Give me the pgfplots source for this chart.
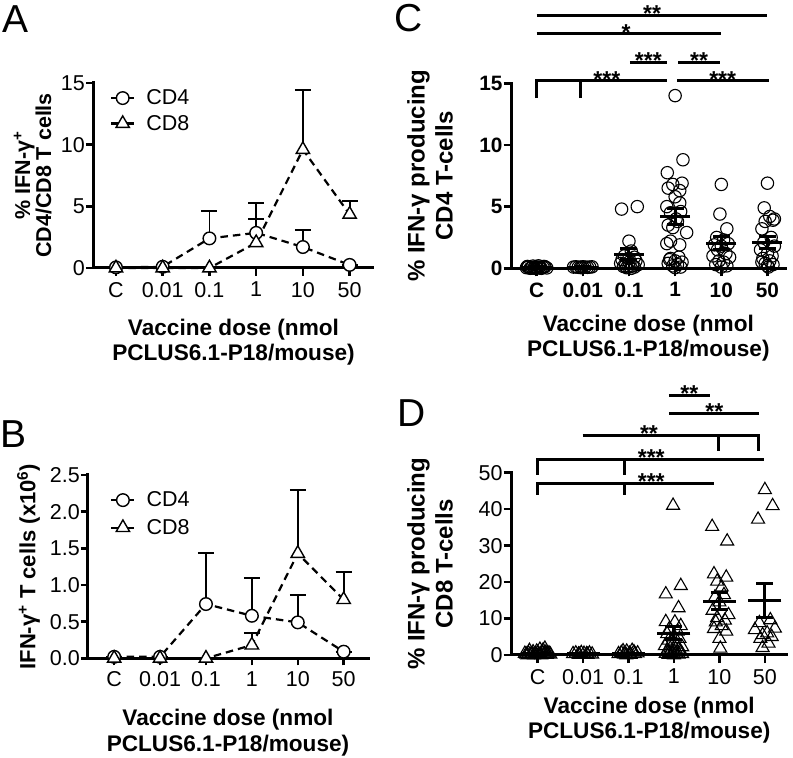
\documentclass[border=0pt]{standalone}
\usepackage{pgfplots}
\pgfplotsset{compat=1.18}
\usepackage{fontspec}
\setmainfont{Liberation Sans}
\newcommand\tk{\fontsize{21.5}{24}\selectfont}
\newcommand\tkb{\fontsize{20.8}{24}\selectfont\bfseries}
\newcommand\lb{\fontsize{22.6}{25.5}\selectfont\bfseries}
\newcommand\yla{\fontsize{21.5}{20}\selectfont\bfseries}
\newcommand\ylb{\fontsize{22}{24}\selectfont\bfseries}
\newcommand\ylc{\fontsize{24}{28}\selectfont\bfseries}
\newcommand\starf{\fontsize{23}{24}\selectfont\bfseries}
\newcommand\pl{\fontsize{39}{40}\selectfont}
\tikzset{
  sig/.style={line width=3pt},
  sigt/.style={anchor=base, yshift=-6.5pt, font=\starf, inner sep=0pt},
}
\begin{document}
\begin{tikzpicture}
\path[use as bounding box] (0pt,0pt) rectangle (793pt,758pt);
\pgfplotsset{
  base/.style={
    scale only axis, anchor=south west,
    axis lines=left, axis line style={-, line width=3pt, line cap=rect},
    tick align=outside, major tick length=8pt,
    tick style={black, line width=2.5pt},
    xtick={0,...,5}, xticklabels={C,0.01,0.1,1,10,50},
    ticklabel style={font=\tk, inner sep=0pt},
    xticklabel style={yshift=-6pt},
    yticklabel style={xshift=-1pt},
    xlabel style={font=\lb, align=center, anchor=north, inner sep=0pt},
    ylabel style={align=center, anchor=south, inner sep=0pt},
    clip=false,
  },
  dline/.style={black, line width=2.2pt, dash pattern=on 7.5pt off 5pt,
    error bars/.cd, y dir=plus, y explicit,
    error bar style={solid, line width=1.8pt},
    error mark options={rotate=90, mark size=8pt, line width=1.8pt, solid}},
  cdfour/.style={mark=*, mark size=6.3pt, mark options={solid, fill=white, draw=black, line width=1.4pt}, dline},
  cdeight/.style={mark=triangle*, mark size=7.7pt, mark options={solid, fill=white, draw=black, line width=1.4pt}, dline},
  leg/.style={legend style={draw=none, fill=none, font=\tk, inner sep=0pt, column sep=9pt},
    legend cell align=left,
    legend image code/.code={\draw[mark repeat=2, mark phase=2, ##1, solid] plot coordinates {(0pt,0pt) (11.5pt,0pt) (23pt,0pt)};}},
  meanbar/.style={black, only marks, mark=-, mark size=#1, mark options={line width=3pt, solid},
    error bars/.cd, y dir=both, y explicit,
    error bar style={line width=3pt},
    error mark options={rotate=90, mark size=8.5pt, line width=3pt}},
}

% ---------------- Panel A ----------------
\begin{axis}[base, leg, at={(94pt,490pt)}, width=279pt, height=185pt,
  xmin=-0.47, xmax=5.5, ymin=0, ymax=15,
  ytick={0,5,10,15}, yticklabels={0,5,10,15},
  xlabel={Vaccine dose (nmol\\PCLUS6.1-P18/mouse)},
  xlabel style={at={(axis description cs:0.5,-0.273)}},
  ylabel={\% IFN-γ\textsuperscript{+}\\CD4/CD8 T cells},
  ylabel style={font=\yla, at={(axis description cs:-0.1516,0.5)}},
  legend style={at={(axis description cs:0.057,0.975)}, anchor=north west, row sep=5pt},
]
\addplot[cdfour] coordinates {(0,0.05) +- (0,0) (1,0.1) +- (0,0) (2,2.4) +- (0,2.25) (3,2.85) +- (0,2.4) (4,1.7) +- (0,1.35) (5,0.25) +- (0,0)};
\addlegendentry{CD4}
\addplot[cdeight] coordinates {(0,0) +- (0,0) (1,0) +- (0,0) (2,0) +- (0,0) (3,2.05) +- (0,1.9) (4,9.6) +- (0,4.85) (5,4.35) +- (0,1.1)};
\addlegendentry{CD8}
\end{axis}

% ---------------- Panel B ----------------
\begin{axis}[base, leg, at={(88pt,99.7pt)}, width=280pt, height=183.3pt,
  xmin=-0.57, xmax=5.53, ymin=0, ymax=2.5,
  ytick={0,0.5,1,1.5,2,2.5}, yticklabels={0.0,0.5,1.0,1.5,2.0,2.5},
  major tick length=7pt,
  xlabel={Vaccine dose (nmol\\PCLUS6.1-P18/mouse)},
  xlabel style={at={(axis description cs:0.5,-0.277)}},
  ylabel={IFN-γ\textsuperscript{+} T cells (x10\textsuperscript{6})},
  ylabel style={font=\ylb, at={(axis description cs:-0.171,0.5)}},
  legend style={at={(axis description cs:0.079,0.92)}, anchor=north west, row sep=7pt},
]
\addplot[cdfour] coordinates {(0,0.02) +- (0,0) (1,0.02) +- (0,0) (2,0.74) +- (0,0.7) (3,0.58) +- (0,0.52) (4,0.49) +- (0,0.37) (5,0.09) +- (0,0)};
\addlegendentry{CD4}
\addplot[cdeight] coordinates {(0,0) +- (0,0) (1,0) +- (0,0) (2,0.0) +- (0,0) (3,0.18) +- (0,0.17) (4,1.43) +- (0,0.87) (5,0.80) +- (0,0.38)};
\addlegendentry{CD8}
\end{axis}

% ---------------- Panel C ----------------
\begin{axis}[base, at={(511.7pt,489.7pt)}, width=273.3pt, height=185pt,
  axis line style={-, line width=3.5pt, line cap=rect},
  xmin=-0.54, xmax=5.38, ymin=0, ymax=15,
  ytick={0,5,10,15}, yticklabels={0,5,10,15},
  ticklabel style={font=\tkb},
  xlabel={Vaccine dose (nmol\\PCLUS6.1-P18/mouse)},
  xlabel style={at={(axis description cs:0.5,-0.252)}},
  ylabel={\% IFN-γ producing\\CD4 T-cells},
  ylabel style={font=\ylc, at={(axis description cs:-0.2148,0.5)}},
]
\addplot[black, only marks, mark=o, mark size=6.2pt, mark options={line width=1.1pt}] coordinates {
(-0.22,0.05)(-0.18,0.1)(-0.14,0.0)(-0.1,0.08)(-0.06,0.03)(-0.02,0.12)(0.02,0.04)(0.06,0.1)(0.1,0.0)(0.14,0.07)(0.18,0.12)(0.22,0.03)(-0.2,0.15)(-0.08,0.18)(0.04,0.2)(0.16,0.15)(-0.12,0.02)(0.08,0.02)(0.0,0.06)(-0.04,0.0)
(0.8,0.1)(0.85,0.12)(0.9,0.08)(0.95,0.1)(1.0,0.12)(1.05,0.1)(1.1,0.08)(1.15,0.1)(1.2,0.12)(0.97,0.05)
(1.84,4.8)(2.18,5.0)(2.0,2.2)(2.05,1.4)(1.9,1.0)(2.12,0.9)(1.85,0.7)(2.15,0.6)(2.0,0.5)(1.82,0.4)(2.2,0.3)(1.92,0.2)(2.08,0.2)(2.0,0.1)(1.95,0.05)(2.05,0.0)(2.0,0.8)(1.88,0.15)(2.12,0.1)
(3.0,14.0)(3.17,8.8)(2.83,7.75)(3.15,6.9)(2.95,6.8)(3.1,6.3)(2.85,6.5)(3.0,5.8)(2.82,5.0)(3.12,4.6)(3.02,4.0)(2.85,3.5)(2.95,3.3)(3.25,2.9)(2.9,2.2)(2.82,2.0)(3.1,1.9)(3.08,0.9)(2.9,0.8)(3.0,0.6)(3.15,0.5)(2.85,0.4)(3.05,0.3)(2.95,0.2)(3.12,0.1)(2.88,0.7)(3.0,0.05)(2.9,4.5)(3.1,5.3)(3.05,3.8)
(4.0,6.8)(3.97,4.4)(4.12,3.2)(3.9,2.5)(4.05,2.3)(4.15,2.0)(3.85,1.9)(4.0,1.8)(3.92,1.5)(4.1,1.2)(3.82,1.0)(4.18,0.9)(3.95,0.6)(4.05,0.5)(3.88,0.3)(4.12,0.2)(4.0,0.1)
(5.0,6.9)(4.93,4.9)(5.05,4.2)(5.12,3.9)(4.95,3.8)(4.88,3.2)(5.08,2.5)(4.92,2.1)(5.15,1.8)(4.85,1.5)(5.0,1.2)(5.1,1.0)(4.9,0.8)(5.05,0.6)(4.95,0.4)(5.12,0.3)(4.88,0.5)(5.0,0.2)(5.02,0.1)(5.15,4.0)
};
\addplot[meanbar=15pt] coordinates {(0,0.08) +- (0,0.03) (1,0.1) +- (0,0.02) (2,1.15) +- (0,0.42) (3,4.2) +- (0,0.67) (4,2.03) +- (0,0.54) (5,2.08) +- (0,0.5)};
\draw[sig] (axis cs:0,20.5) -- (axis cs:5,20.5);
\node[sigt] at (axis cs:2.5,20.5) {**};
\draw[sig] (axis cs:0,19.0) -- (axis cs:4,19.0);
\node[sigt] at (axis cs:1.94,19.0) {*};
\draw[sig] (axis cs:2.02,16.7) -- (axis cs:2.82,16.7);
\node[sigt] at (axis cs:2.42,16.7) {***};
\draw[sig] (axis cs:3.07,16.7) -- (axis cs:3.97,16.7);
\node[sigt] at (axis cs:3.52,16.7) {**};
\draw[sig] (axis cs:0,13.8) -- (axis cs:0,15.2) -- (axis cs:2.82,15.2);
\draw[sig] (axis cs:0.95,13.8) -- (axis cs:0.95,15.2);
\node[sigt] at (axis cs:1.52,15.2) {***};
\draw[sig] (axis cs:3.05,15.2) -- (axis cs:5.04,15.2);
\node[sigt] at (axis cs:4.03,15.2) {***};
\end{axis}

% ---------------- Panel D ----------------
\begin{axis}[base, at={(511.7pt,103pt)}, width=275pt, height=182.3pt,
  xmin=-0.57, xmax=5.48, ymin=0, ymax=50,
  ytick={0,10,20,30,40,50}, yticklabels={0,10,20,30,40,50},
  xlabel={Vaccine dose (nmol\\PCLUS6.1-P18/mouse)},
  xlabel style={at={(axis description cs:0.5,-0.229)}},
  ylabel={\% IFN-γ producing\\CD8 T-cells},
  ylabel style={font=\ylc, at={(axis description cs:-0.2135,0.5)}},
]
\addplot[black, only marks, mark=triangle, mark size=7.5pt, mark options={line width=1.1pt}] coordinates {
(-0.25,0.2)(-0.2,0.5)(-0.15,0.1)(-0.1,0.8)(-0.05,0.3)(0.0,0.6)(0.05,0.2)(0.1,0.9)(0.15,0.4)(0.2,0.1)(0.25,0.5)(-0.22,0.0)(-0.12,0.3)(-0.02,1.0)(0.08,0.0)(0.18,0.7)(-0.18,1.2)(0.12,1.3)(0.02,0.1)(-0.08,0.0)(0.22,0.3)(0.16,1.8)(-0.28,0.4)(0.28,0.2)(0.05,1.5)
(0.78,0.3)(0.84,0.5)(0.9,0.2)(0.96,0.6)(1.02,0.4)(1.08,0.3)(1.14,0.5)(1.2,0.2)(0.92,0.1)(1.1,0.1)
(1.78,0.3)(1.84,0.6)(1.9,0.2)(1.96,1.0)(2.02,0.4)(2.08,1.2)(2.14,0.3)(2.2,0.5)(1.88,1.1)(2.05,0.1)(1.95,0.0)(2.12,0.8)
(2.98,41)(3.15,19)(2.82,16.7)(3.1,12.9)(2.82,9.1)(3.02,9.0)(3.15,8.0)(2.9,7.2)(3.08,6.5)(2.85,5.8)(3.0,5.2)(3.12,4.5)(2.88,4.0)(2.95,3.5)(3.05,3.0)(2.8,2.5)(3.18,2.2)(2.92,1.8)(3.1,1.5)(2.85,1.2)(3.0,1.0)(3.15,0.8)(2.9,0.6)(3.05,0.5)(2.95,0.3)(3.1,0.2)(2.88,0.1)(3.0,0.0)(2.82,0.4)(3.18,0.3)
(3.84,35.2)(4.17,31.2)(3.88,22.2)(4.15,21.3)(3.95,20.2)(4.05,18.6)(4.1,16.5)(3.9,15.8)(4.0,14.5)(3.85,12.2)(4.2,11.0)(3.95,10.2)(4.12,9.5)(3.92,9.0)(4.05,8.0)(3.88,7.2)(4.15,6.5)(4.0,4.5)(4.02,1.8)
(5.0,45.3)(5.17,40.9)(4.85,37.2)(5.12,9.6)(4.88,8.8)(5.22,7.3)(4.78,6.9)(5.05,6.0)(4.95,5.5)(5.15,5.0)(4.9,4.5)(5.08,3.2)(4.95,2.0)
};
\addplot[meanbar=16.5pt] coordinates {(0,0.3) +- (0,0.1) (1,0.3) +- (0,0.05) (2,0.35) +- (0,0.1) (3,5.95) +- (0,1.8) (4,14.8) +- (0,2.3) (5,15.0) +- (0,4.65)};
\draw[sig] (axis cs:2.89,71.3) -- (axis cs:3.79,71.3);
\node[sigt] at (axis cs:3.34,71.3) {**};
\draw[sig] (axis cs:2.89,66.3) -- (axis cs:4.87,66.3);
\node[sigt] at (axis cs:3.89,66.3) {**};
\draw[sig] (axis cs:0.99,60.3) -- (axis cs:4.87,60.3) -- (axis cs:4.87,56.0);
\draw[sig] (axis cs:3.98,60.3) -- (axis cs:3.98,56.0);
\node[sigt] at (axis cs:2.45,60.3) {**};
\draw[sig] (axis cs:0,49.4) -- (axis cs:0,53.7) -- (axis cs:4.98,53.7);
\draw[sig] (axis cs:1.92,53.7) -- (axis cs:1.92,49.4);
\node[sigt] at (axis cs:2.5,53.7) {***};
\draw[sig] (axis cs:0,43.9) -- (axis cs:0,47.1) -- (axis cs:3.89,47.1);
\draw[sig] (axis cs:1.92,47.1) -- (axis cs:1.92,43.9);
\node[sigt] at (axis cs:2.5,47.1) {***};
\end{axis}

% ---------------- Panel letters ----------------
\node[anchor=base west, inner sep=0pt, font=\pl] at (2pt,725pt) {A};
\node[anchor=base west, inner sep=0pt, font=\pl] at (0pt,310pt) {B};
\node[anchor=base west, inner sep=0pt, font=\pl] at (394pt,726pt) {C};
\node[anchor=base west, inner sep=0pt, font=\pl] at (397pt,331pt) {D};
\end{tikzpicture}
\end{document}
